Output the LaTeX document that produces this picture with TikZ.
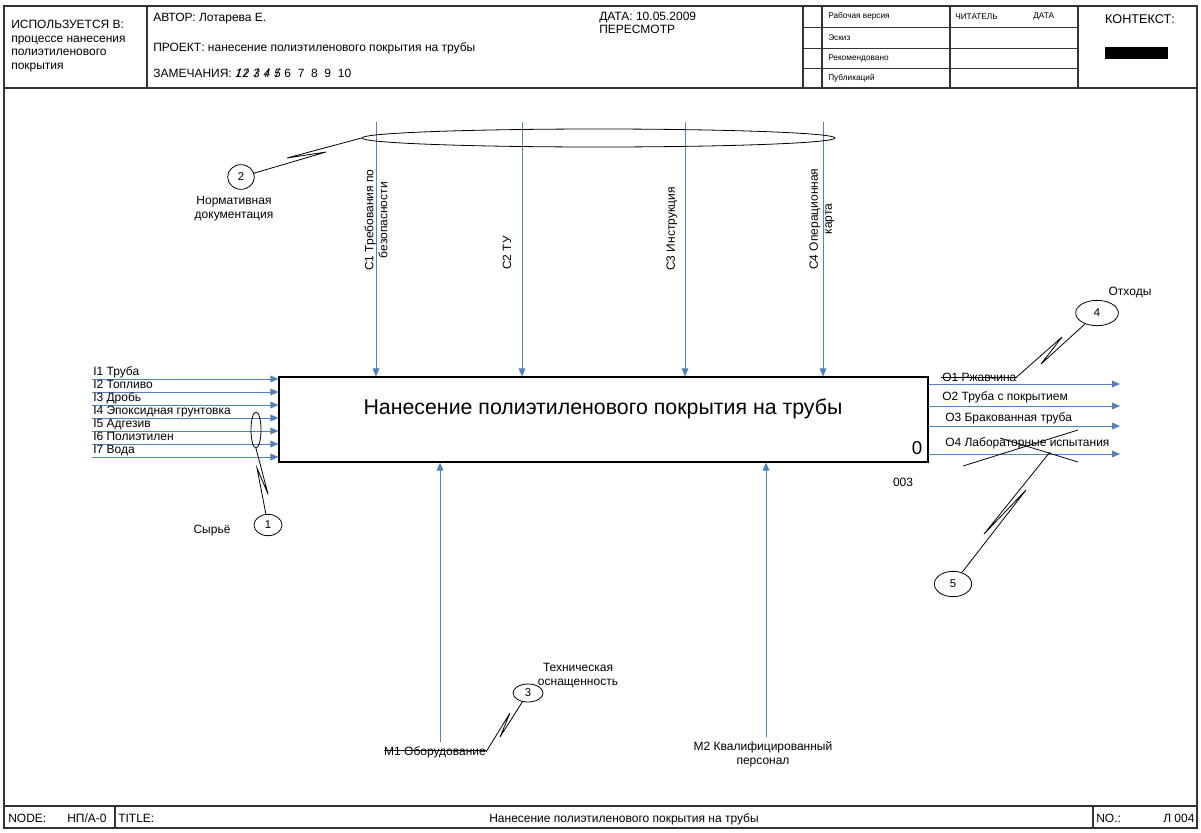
\documentclass[tikz,border=0pt]{standalone}
\usepackage{fontspec}
\setmainfont{Liberation Sans}
\usetikzlibrary{arrows.meta,positioning,shapes.geometric}
\definecolor{idefblue}{RGB}{79,129,189}
\newcommand{\strucknum}[1]{\makebox[0.6em][c]{\itshape #1}\llap{\makebox[0.6em][c]{\itshape /}}}

\begin{document}
\begin{tikzpicture}[x=0.75pt,y=-0.75pt]
\tikzset{
  frameline/.style={draw=black!80,line width=0.9pt},
  gridline/.style={draw=black!80,line width=0.6pt},
  fnbox/.style={rectangle,draw=black,line width=0.8pt,minimum width=486.75pt,minimum height=63.75pt,inner sep=0pt},
  flowarrow/.style={draw=idefblue,line width=0.75pt,-{Triangle[length=6pt,width=5pt]}},
  tagnode/.style={ellipse,draw=black,line width=0.6pt,inner sep=0pt,font=\fontsize{8.5}{9}\selectfont},
  calloutline/.style={draw=black,line width=0.6pt},
  strikeline/.style={draw=black,line width=0.6pt},
  hdrtext/.style={font=\fontsize{9}{10}\selectfont,inner sep=0pt,anchor=base west},
  smalltext/.style={font=\fontsize{6.2}{7}\selectfont,inner sep=0pt,anchor=west},
  flowlabel/.style={font=\fontsize{9}{10.5}\selectfont,inner sep=0pt}
}
\useasboundingbox (0,0) rectangle (1201,832);
% form frame
\draw[frameline] (4,6) rectangle (1197,828);
\draw[frameline] (4,88) -- (1197,88);
\draw[frameline] (4,806) -- (1197,806);
\draw[frameline] (147,6) -- (147,88);
\draw[frameline] (803,6) -- (803,88);
\draw[frameline] (822,6) -- (822,88);
\draw[frameline] (950,6) -- (950,88);
\draw[frameline] (1078,6) -- (1078,88);
\draw[gridline] (803,27) -- (1078,27);
\draw[gridline] (803,48) -- (1078,48);
\draw[gridline] (803,68) -- (1078,68);
\draw[frameline] (115,806) -- (115,828);
\draw[frameline] (1093,806) -- (1093,828);
% header
\node[hdrtext] (usedin) at (11,28) {ИСПОЛЬЗУЕТСЯ В:};
\node[hdrtext] (usedin1) at (11,42) {процессе нанесения};
\node[hdrtext] (usedin2) at (11,55.5) {полиэтиленового};
\node[hdrtext] (usedin3) at (11,69) {покрытия};
\node[hdrtext] (author) at (153,21) {АВТОР: Лотарева Е.};
\node[hdrtext] (project) at (153,51) {ПРОЕКТ: нанесение полиэтиленового покрытия на трубы};
\node[hdrtext] (notes) at (153,77) {ЗАМЕЧАНИЯ: \strucknum{1}\strucknum{2} \strucknum{3} \strucknum{4} \strucknum{5} 6 \ 7 \ 8 \ 9 \ 10};
\node[hdrtext] (date) at (599,20) {ДАТА: 10.05.2009};
\node[hdrtext] (revision) at (599,33) {ПЕРЕСМОТР};
\node[smalltext] (st1) at (828,16.5) {Рабочая версия};
\node[smalltext] (st2) at (828,37.5) {Эскиз};
\node[smalltext] (st3) at (828,58) {Рекомендовано};
\node[smalltext] (st4) at (828,78) {Публикаций};
\node[smalltext] (reader) at (955,16.5) {ЧИТАТЕЛЬ};
\node[smalltext] (readdate) at (1033,16.5) {ДАТА};
\node[font=\fontsize{9.5}{11}\selectfont,inner sep=0pt] (context) at (1140,19) {КОНТЕКСТ:};
\fill (1105,47) rectangle (1168,59);
% footer
\node[hdrtext] (nodelbl) at (8,822) {NODE:};
\node[hdrtext] (nodeid) at (67,822) {НП/А-0};
\node[hdrtext] (titlelbl) at (118,822) {TITLE:};
\node[hdrtext,anchor=base] (titletext) at (624,822) {Нанесение полиэтиленового покрытия на трубы};
\node[hdrtext] (nolbl) at (1096,822) {NO.:};
\node[hdrtext] (noval) at (1163,822) {Л 004};
% function box
\node[fnbox] (func) at (603.5,419.5) {};
\node[font=\fontsize{16}{19}\selectfont,inner sep=0pt] (functitle) at (603,409) {Нанесение полиэтиленового покрытия на трубы};
\node[font=\fontsize{14}{16}\selectfont,inner sep=0pt] (funcnum) at (917,448) {0};
\node[flowlabel] (funcref) at (903,482) {003};
% controls
\coordinate (c1top) at (376,122);
\coordinate (c2top) at (522,122);
\coordinate (c3top) at (685,122);
\coordinate (c4top) at (823,122);
\draw[flowarrow] (c1top) -- (c1top |- func.north);
\draw[flowarrow] (c2top) -- (c2top |- func.north);
\draw[flowarrow] (c3top) -- (c3top |- func.north);
\draw[flowarrow] (c4top) -- (c4top |- func.north);
\node[flowlabel,rotate=90,anchor=west,align=center] (c1lbl) at (376,271) {C1 Требования по\\безопасности};
\node[flowlabel,rotate=90,anchor=west] (c2lbl) at (507,270) {C2 ТУ};
\node[flowlabel,rotate=90,anchor=west] (c3lbl) at (672,271) {C3 Инструкция};
\node[flowlabel,rotate=90,anchor=west,align=center] (c4lbl) at (822,270) {C4 Операционная\\карта};
\node[tagnode,minimum width=354.75pt,minimum height=13.5pt] (ctrlsel) at (598.5,138) {};
\node[tagnode,minimum width=20pt,minimum height=18.5pt] (tag2) at (241,177) {2};
\node[flowlabel,align=center] (tag2lbl) at (234,209) {Нормативная\\документация};
\draw[calloutline] (tag2) -- (326,152) -- (287,158) -- (ctrlsel.west);
% inputs
\coordinate (i1) at (92,379);
\coordinate (i2) at (92,392);
\coordinate (i3) at (92,405);
\coordinate (i4) at (92,418);
\coordinate (i5) at (92,431);
\coordinate (i6) at (92,444);
\coordinate (i7) at (92,457);
\draw[flowarrow] (i1) -- (i1 -| func.west);
\draw[flowarrow] (i2) -- (i2 -| func.west);
\draw[flowarrow] (i3) -- (i3 -| func.west);
\draw[flowarrow] (i4) -- (i4 -| func.west);
\draw[flowarrow] (i5) -- (i5 -| func.west);
\draw[flowarrow] (i6) -- (i6 -| func.west);
\draw[flowarrow] (i7) -- (i7 -| func.west);
\node[flowlabel,anchor=base west] (i1lbl) at (93,375) {I1 Труба};
\node[flowlabel,anchor=base west] (i2lbl) at (93,388) {I2 Топливо};
\node[flowlabel,anchor=base west] (i3lbl) at (93,401) {I3 Дробь};
\node[flowlabel,anchor=base west] (i4lbl) at (93,414) {I4 Эпоксидная грунтовка};
\node[flowlabel,anchor=base west] (i5lbl) at (93,427) {I5 Адгезив};
\node[flowlabel,anchor=base west] (i6lbl) at (93,440) {I6 Полиэтилен};
\node[flowlabel,anchor=base west] (i7lbl) at (93,453) {I7 Вода};
\node[tagnode,minimum width=7.5pt,minimum height=27pt] (insel) at (256,430) {};
\node[tagnode,minimum width=21pt,minimum height=16pt] (tag1) at (268,525) {1};
\node[flowlabel] (tag1lbl) at (212,531) {Сырьё};
\draw[calloutline] (insel.south) -- (268,494) -- (257,468) -- (tag1);
% outputs
\coordinate (o1end) at (1120,384);
\coordinate (o2end) at (1120,406);
\coordinate (o3end) at (1120,426);
\coordinate (o4end) at (1120,454);
\draw[flowarrow] (o1end -| func.east) -- (o1end);
\draw[flowarrow] (o2end -| func.east) -- (o2end);
\draw[flowarrow] (o3end -| func.east) -- (o3end);
\draw[flowarrow] (o4end -| func.east) -- (o4end);
\node[flowlabel,anchor=west] (o1lbl) at (942,377) {O1 Ржавчина};
\node[flowlabel,anchor=west] (o2lbl) at (942,397) {O2 Труба с покрытием};
\node[flowlabel,anchor=west] (o3lbl) at (945,418) {O3 Бракованная труба};
\node[flowlabel,anchor=west] (o4lbl) at (945,443) {O4 Лабораторные испытания};
\draw[strikeline] ([xshift=-1pt]o1lbl.west) -- (o1lbl.east);
\draw[strikeline] (963,466) -- (1078,430);
\draw[strikeline] (1000,438) -- (1078,462);
\coordinate (xmark) at (1050,452);
\node[tagnode,minimum width=32pt,minimum height=19pt] (tag4) at (1097,313) {4};
\node[flowlabel] (tag4lbl) at (1130,292) {Отходы};
\draw[calloutline] (tag4) -- (1041,364) -- (1062,337) -- (o1lbl.east);
\node[tagnode,minimum width=28pt,minimum height=19pt] (tag5) at (953,584) {5};
\draw[calloutline] (tag5) -- (1026,490) -- (984,534) -- (xmark);
% mechanisms
\coordinate (m1bot) at (440,742);
\coordinate (m2bot) at (766,737);
\draw[flowarrow] (m1bot) -- (m1bot |- func.south);
\draw[flowarrow] (m2bot) -- (m2bot |- func.south);
\node[flowlabel,anchor=base] (m1lbl) at (435,755) {M1 Оборудование};
\draw[strikeline] ([yshift=3.2pt]m1lbl.base west) -- ([yshift=3.2pt]m1lbl.base east);
\node[flowlabel,align=center] (m2lbl) at (763,754) {M2 Квалифицированный\\персонал};
\node[tagnode,minimum width=22.5pt,minimum height=13.5pt] (tag3) at (528,693) {3};
\node[flowlabel,align=center] (tag3lbl) at (578,676) {Техническая\\оснащенность};
\draw[calloutline] (tag3) -- (500,737) -- (510,713) -- (m1lbl.east);
\end{tikzpicture}
\end{document}
